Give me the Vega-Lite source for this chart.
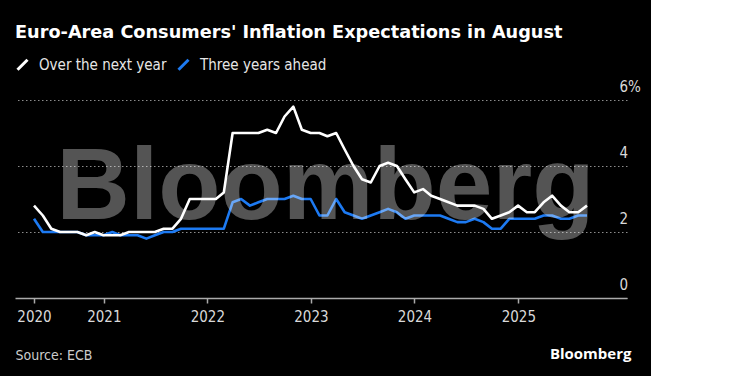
{
  "$schema": "https://vega.github.io/schema/vega-lite/v6.json",
  "width": 612,
  "height": 198,
  "autosize": {"type": "none"},
  "padding": {"left": 15, "top": 100, "right": 24, "bottom": 78},
  "background": "#000000",
  "title": {
    "text": "Euro-Area Consumers' Inflation Expectations in August",
    "anchor": "start",
    "frame": "group",
    "font": "DejaVu Sans",
    "fontSize": 17.7,
    "fontWeight": "bold",
    "color": "#ffffff",
    "baseline": "alphabetic",
    "offset": 1
  },
  "config": {
    "view": {"stroke": null},
    "font": "DejaVu Sans Condensed"
  },
  "datasets": {
    "series": [
      {"date": "2020-04-30", "Over the next year": 2.8, "Three years ahead": 2.4},
      {"date": "2020-05-31", "Over the next year": 2.5, "Three years ahead": 2.0},
      {"date": "2020-06-30", "Over the next year": 2.1, "Three years ahead": 2.0},
      {"date": "2020-07-31", "Over the next year": 2.0, "Three years ahead": 2.0},
      {"date": "2020-08-31", "Over the next year": 2.0, "Three years ahead": 2.0},
      {"date": "2020-09-30", "Over the next year": 2.0, "Three years ahead": 2.0},
      {"date": "2020-10-31", "Over the next year": 1.9, "Three years ahead": 1.9},
      {"date": "2020-11-30", "Over the next year": 2.0, "Three years ahead": 1.9},
      {"date": "2020-12-31", "Over the next year": 1.9, "Three years ahead": 1.9},
      {"date": "2021-01-31", "Over the next year": 1.9, "Three years ahead": 2.0},
      {"date": "2021-02-28", "Over the next year": 1.9, "Three years ahead": 1.9},
      {"date": "2021-03-31", "Over the next year": 2.0, "Three years ahead": 1.9},
      {"date": "2021-04-30", "Over the next year": 2.0, "Three years ahead": 1.9},
      {"date": "2021-05-31", "Over the next year": 2.0, "Three years ahead": 1.8},
      {"date": "2021-06-30", "Over the next year": 2.0, "Three years ahead": 1.9},
      {"date": "2021-07-31", "Over the next year": 2.1, "Three years ahead": 2.0},
      {"date": "2021-08-31", "Over the next year": 2.1, "Three years ahead": 2.0},
      {"date": "2021-09-30", "Over the next year": 2.4, "Three years ahead": 2.1},
      {"date": "2021-10-31", "Over the next year": 3.0, "Three years ahead": 2.1},
      {"date": "2021-11-30", "Over the next year": 3.0, "Three years ahead": 2.1},
      {"date": "2021-12-31", "Over the next year": 3.0, "Three years ahead": 2.1},
      {"date": "2022-01-31", "Over the next year": 3.0, "Three years ahead": 2.1},
      {"date": "2022-02-28", "Over the next year": 3.2, "Three years ahead": 2.1},
      {"date": "2022-03-31", "Over the next year": 5.0, "Three years ahead": 2.9},
      {"date": "2022-04-30", "Over the next year": 5.0, "Three years ahead": 3.0},
      {"date": "2022-05-31", "Over the next year": 5.0, "Three years ahead": 2.8},
      {"date": "2022-06-30", "Over the next year": 5.0, "Three years ahead": 2.9},
      {"date": "2022-07-31", "Over the next year": 5.1, "Three years ahead": 3.0},
      {"date": "2022-08-31", "Over the next year": 5.0, "Three years ahead": 3.0},
      {"date": "2022-09-30", "Over the next year": 5.5, "Three years ahead": 3.0},
      {"date": "2022-10-31", "Over the next year": 5.8, "Three years ahead": 3.1},
      {"date": "2022-11-30", "Over the next year": 5.1, "Three years ahead": 3.0},
      {"date": "2022-12-31", "Over the next year": 5.0, "Three years ahead": 3.0},
      {"date": "2023-01-31", "Over the next year": 5.0, "Three years ahead": 2.5},
      {"date": "2023-02-28", "Over the next year": 4.9, "Three years ahead": 2.5},
      {"date": "2023-03-31", "Over the next year": 5.0, "Three years ahead": 3.0},
      {"date": "2023-04-30", "Over the next year": 4.5, "Three years ahead": 2.6},
      {"date": "2023-05-31", "Over the next year": 4.0, "Three years ahead": 2.5},
      {"date": "2023-06-30", "Over the next year": 3.6, "Three years ahead": 2.4},
      {"date": "2023-07-31", "Over the next year": 3.5, "Three years ahead": 2.5},
      {"date": "2023-08-31", "Over the next year": 4.0, "Three years ahead": 2.6},
      {"date": "2023-09-30", "Over the next year": 4.1, "Three years ahead": 2.7},
      {"date": "2023-10-31", "Over the next year": 4.0, "Three years ahead": 2.6},
      {"date": "2023-11-30", "Over the next year": 3.6, "Three years ahead": 2.4},
      {"date": "2023-12-31", "Over the next year": 3.2, "Three years ahead": 2.5},
      {"date": "2024-01-31", "Over the next year": 3.3, "Three years ahead": 2.5},
      {"date": "2024-02-29", "Over the next year": 3.1, "Three years ahead": 2.5},
      {"date": "2024-03-31", "Over the next year": 3.0, "Three years ahead": 2.5},
      {"date": "2024-04-30", "Over the next year": 2.9, "Three years ahead": 2.4},
      {"date": "2024-05-31", "Over the next year": 2.8, "Three years ahead": 2.3},
      {"date": "2024-06-30", "Over the next year": 2.8, "Three years ahead": 2.3},
      {"date": "2024-07-31", "Over the next year": 2.8, "Three years ahead": 2.4},
      {"date": "2024-08-31", "Over the next year": 2.7, "Three years ahead": 2.3},
      {"date": "2024-09-30", "Over the next year": 2.4, "Three years ahead": 2.1},
      {"date": "2024-10-31", "Over the next year": 2.5, "Three years ahead": 2.1},
      {"date": "2024-11-30", "Over the next year": 2.6, "Three years ahead": 2.4},
      {"date": "2024-12-31", "Over the next year": 2.8, "Three years ahead": 2.4},
      {"date": "2025-01-31", "Over the next year": 2.6, "Three years ahead": 2.4},
      {"date": "2025-02-28", "Over the next year": 2.6, "Three years ahead": 2.4},
      {"date": "2025-03-31", "Over the next year": 2.9, "Three years ahead": 2.5},
      {"date": "2025-04-30", "Over the next year": 3.1, "Three years ahead": 2.5},
      {"date": "2025-05-31", "Over the next year": 2.8, "Three years ahead": 2.4},
      {"date": "2025-06-30", "Over the next year": 2.6, "Three years ahead": 2.4},
      {"date": "2025-07-31", "Over the next year": 2.6, "Three years ahead": 2.5},
      {"date": "2025-08-31", "Over the next year": 2.8, "Three years ahead": 2.5}
    ],
    "watermark": [
      {"label": "Bloomberg", "date": "2023-02-21", "value": 2.4}
    ]
  },
  "data": {"name": "series"},
  "encoding": {
    "x": {
      "field": "date",
      "type": "temporal",
      "scale": {
        "type": "utc",
        "domain": [
          {"year": 2020, "month": 2, "date": 23, "utc": true},
          {"year": 2026, "month": 1, "date": 19, "utc": true}
        ]
      },
      "axis": {
        "values": [
          {"year": 2020, "month": 4, "date": 30, "utc": true},
          {"year": 2021, "month": 1, "date": 1, "utc": true},
          {"year": 2022, "month": 1, "date": 1, "utc": true},
          {"year": 2023, "month": 1, "date": 1, "utc": true},
          {"year": 2024, "month": 1, "date": 1, "utc": true},
          {"year": 2025, "month": 1, "date": 1, "utc": true}
        ],
        "format": "%Y",
        "grid": false,
        "zindex": 1,
        "domainColor": "#aaaaaa",
        "domainWidth": 1.5,
        "tickColor": "#aaaaaa",
        "tickWidth": 1.5,
        "tickSize": 5,
        "labelFont": "DejaVu Sans Condensed",
        "labelFontSize": 15,
        "labelColor": "#d9d9d9",
        "labelPadding": 6,
        "labelFlush": false,
        "labelOverlap": false,
        "title": "Source: ECB",
        "titleAnchor": "start",
        "titleAlign": "left",
        "titleX": 0,
        "titleY": 61,
        "titleBaseline": "alphabetic",
        "titleFont": "DejaVu Sans Condensed",
        "titleFontSize": 14,
        "titleFontWeight": "normal",
        "titleColor": "#cccccc"
      }
    },
    "y": {
      "field": "value",
      "type": "quantitative",
      "scale": {"domain": [0, 6], "nice": false},
      "axis": {
        "orient": "right",
        "values": [0, 2, 4, 6],
        "grid": true,
        "gridColor": "#8c8c8c",
        "gridDash": [1.5, 2.5],
        "gridWidth": 1,
        "domain": false,
        "ticks": false,
        "labelAlign": "left",
        "labelPadding": -8,
        "labelBaseline": "alphabetic",
        "labelOffset": -9,
        "labelFont": "DejaVu Sans Condensed",
        "labelFontSize": 15,
        "labelColor": "#d9d9d9",
        "labelFlush": false,
        "labelExpr": "datum.value == 6 ? '6%' : datum.label",
        "title": "Bloomberg",
        "titleAngle": 0,
        "titleX": 4,
        "titleY": 258,
        "titleAlign": "right",
        "titleBaseline": "alphabetic",
        "titleFont": "Open Sans",
        "titleFontSize": 15,
        "titleFontWeight": "bold",
        "titleColor": "#ffffff"
      }
    }
  },
  "layer": [
    {
      "transform": [
        {"fold": ["Over the next year", "Three years ahead"], "as": ["series", "value"]},
        {"filter": "datum.series == 'Three years ahead'"}
      ],
      "mark": {"type": "line", "strokeWidth": 2.6, "strokeJoin": "round"},
      "encoding": {
        "color": {
          "field": "series",
          "type": "nominal",
          "scale": {
            "domain": ["Over the next year", "Three years ahead"],
            "range": ["#ffffff", "#1d7af2"]
          },
          "legend": {
            "orient": "none",
            "legendX": 0,
            "legendY": -43,
            "direction": "horizontal",
            "title": null,
            "padding": 0,
            "symbolType": "M-1,1L1,-1",
            "symbolSize": 100,
            "symbolStrokeWidth": 3,
            "labelFont": "DejaVu Sans Condensed",
            "labelFontSize": 15,
            "labelColor": "#e6e6e6",
            "labelOffset": 9,
            "columnPadding": 5
          }
        }
      }
    },
    {
      "transform": [
        {"fold": ["Over the next year", "Three years ahead"], "as": ["series", "value"]},
        {"filter": "datum.series == 'Over the next year'"}
      ],
      "mark": {"type": "line", "strokeWidth": 2.6, "strokeJoin": "round"},
      "encoding": {
        "color": {"field": "series", "type": "nominal"}
      }
    },
    {
      "data": {"name": "watermark"},
      "mark": {
        "type": "text",
        "font": "Liberation Sans",
        "fontWeight": "bold",
        "fontSize": 102,
        "align": "center",
        "baseline": "alphabetic",
        "fill": "#ffffff",
        "opacity": 0.33
      },
      "encoding": {
        "text": {"field": "label", "type": "nominal"}
      }
    }
  ]
}
